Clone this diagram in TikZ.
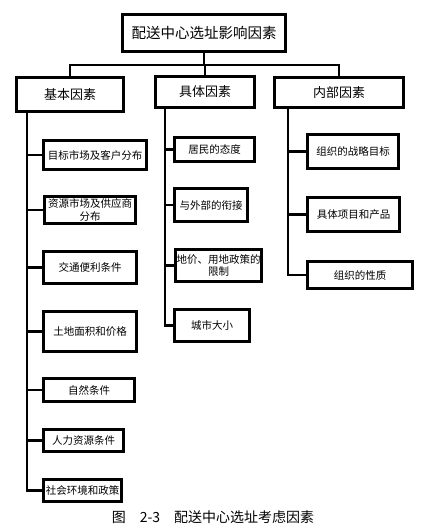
\documentclass[tikz,border=0pt]{standalone}
\usepackage{fontspec}
\setmainfont{Noto Sans CJK SC}
\usetikzlibrary{calc}

\begin{document}
\begin{tikzpicture}[x=1pt,y=-1pt,line join=miter,
    box/.style={draw,line width=2.6pt,inner sep=1pt,align=center,font=\fontsize{10.5}{12.5}\selectfont},
    head/.style={box,font=\fontsize{13}{15}\selectfont},
    link/.style={line width=2.4pt}]

      \useasboundingbox (0,0) rectangle (423,529);

      \node[box,font=\fontsize{14.5}{17}\selectfont,minimum width=163,minimum height=37] (top) at (204,33) {配送中心选址影响因素};

      \node[head,minimum width=107,minimum height=34] (basic) at (70,94.5)  {基本因素};
      \node[head,minimum width=99,minimum height=31]  (conc)  at (205,92)   {具体因素};
      \node[head,minimum width=129,minimum height=30] (inner) at (339,92.5) {内部因素};

      \node[box,minimum width=103,minimum height=29] (a1) at (95,155)    {目标市场及客户分布};
      \node[box,minimum width=91,minimum height=27]  (a2) at (90,210)    {资源市场及供应商\\分布};
      \node[box,minimum width=93,minimum height=32]  (a3) at (90,267.5)  {交通便利条件};
      \node[box,minimum width=93,minimum height=40]  (a4) at (90,331.5)  {土地面积和价格};
      \node[box,minimum width=91,minimum height=23]  (a5) at (89,390)    {自然条件};
      \node[box,minimum width=80,minimum height=22]  (a6) at (83.5,440.5) {人力资源条件};
      \node[box,minimum width=78,minimum height=22]  (a7) at (82.5,490.5) {社会环境和政策};

      \node[box,minimum width=80,minimum height=24] (b1) at (214.5,149.5) {居民的态度};
      \node[box,minimum width=73,minimum height=33] (b2) at (211,205)     {与外部的衔接};
      \node[box,minimum width=86,minimum height=32] (b3) at (218.5,265.5) {地价、用地政策的\\限制};
      \node[box,minimum width=75,minimum height=32] (b4) at (212,325.5)   {城市大小};

      \node[box,minimum width=91,minimum height=34]  (c1) at (353,151.5) {组织的战略目标};
      \node[box,minimum width=92,minimum height=34]  (c2) at (353.5,214.5) {具体项目和产品};
      \node[box,minimum width=105,minimum height=27] (c3) at (360,275)   {组织的性质};

      \node[font=\fontsize{14}{16}\selectfont] (cap) at (213,517) {图\hspace{1em}2-3\hspace{1em}配送中心选址考虑因素};

      \coordinate (trunkA) at (27,0);
      \coordinate (trunkB) at (165,0);
      \coordinate (trunkC) at (288,0);

      \draw[link] (top.south) -- ++(0,12) -| (basic.north);
      \draw[link] (top.south) -- ++(0,12) -| (inner.north);
      \draw[link] (top.south) -- ++(0,12) -| (conc.north);

      \draw[link] (trunkA |- basic.south) |- (a7.west);
      \foreach \n in {a1,a2,a3,a4,a5,a6}
        \draw[link] (trunkA |- \n.west) -- (\n.west);
      \draw[link] (trunkB |- conc.south) |- (b4.west);
      \foreach \n in {b1,b2,b3}
        \draw[link] (trunkB |- \n.west) -- (\n.west);
      \draw[link] (trunkC |- inner.south) |- (c3.west);
      \foreach \n in {c1,c2}
        \draw[link] (trunkC |- \n.west) -- (\n.west);
    \end{tikzpicture}
\end{document}
